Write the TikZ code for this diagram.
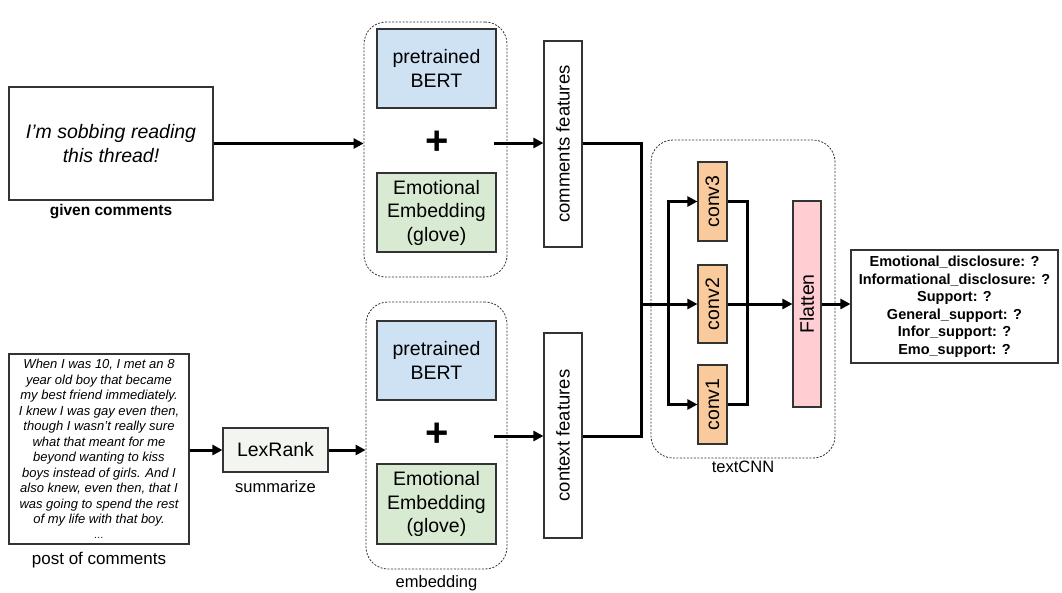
\documentclass[tikz,border=0pt]{standalone}
\usepackage{fontspec}
\setmainfont{Liberation Sans}
\usetikzlibrary{arrows.meta}

\definecolor{bertblue}{RGB}{207,226,243}
\definecolor{gloveg}{RGB}{217,234,211}
\definecolor{convor}{RGB}{249,203,156}
\definecolor{flatpink}{RGB}{255,205,210}
\definecolor{lexfill}{RGB}{243,246,240}
\definecolor{edge}{RGB}{51,51,51}

\tikzset{
  box/.style={draw=edge, line width=1.1pt, inner sep=0pt, align=center,
    font=\fontsize{19.5}{23.5}\selectfont},
  group/.style={draw=edge, line width=0.8pt, dash pattern=on 2pt off 1.5pt,
    rounded corners=22pt, inner sep=0pt},
  caption/.style={inner sep=0pt, font=\fontsize{16.5}{19}\selectfont},
  link/.style={line width=3pt, black},
  arrow/.style={link, -{Triangle[length=10pt,width=10pt]}},
  plus/.style={inner sep=0pt, font=\fontsize{40}{40}\selectfont\bfseries},
}

\begin{document}
\begin{tikzpicture}[x=1pt,y=-1pt]
\useasboundingbox (0,0) rectangle (1062,592);

% inputs
\node[box, minimum width=204, minimum height=113, font=\fontsize{19.5}{24}\selectfont\itshape]
  (cmt) at (111,143.5) {I’m sobbing reading\\this thread!};
\node[caption, font=\fontsize{15.5}{18}\selectfont\bfseries] (cmtlbl) at (111,212) {given comments};

\node[box, minimum width=180, minimum height=190, font=\fontsize{13}{15.5}\selectfont\itshape]
  (post) at (99,449) {When I was 10, I met an 8\\year old boy that became\\my best friend immediately.\\I knew I was gay even then,\\though I wasn’t really sure\\what that meant for me\\beyond wanting to kiss\\boys instead of girls. And I\\also knew, even then, that I\\was going to spend the rest\\of my life with that boy.\\[-1pt]\fontsize{10}{12}\selectfont…};
\node[caption, font=\fontsize{17}{20}\selectfont] (postlbl) at (99,560) {post of comments};

\node[box, fill=lexfill, minimum width=105, minimum height=44] (lex) at (275.5,450) {LexRank};
\node[caption] (lexlbl) at (275.5,487) {summarize};

% embedding blocks
\node[group, minimum width=143, minimum height=255] (emb1) at (435.5,149.5) {};
\node[box, fill=bertblue, minimum width=119, minimum height=79] (bert1) at (436.5,68.5) {pretrained\\BERT};
\node[plus] (plus1) at (437,143) {+};
\node[box, fill=gloveg, minimum width=119, minimum height=79] (glove1) at (436.5,212.5) {Emotional\\Embedding\\(glove)};

\node[group, minimum width=141, minimum height=267] (emb2) at (436.5,435.5) {};
\node[box, fill=bertblue, minimum width=119, minimum height=79] (bert2) at (436.5,360.5) {pretrained\\BERT};
\node[plus] (plus2) at (437,435) {+};
\node[box, fill=gloveg, minimum width=119, minimum height=80] (glove2) at (436.5,504) {Emotional\\Embedding\\(glove)};
\node[caption] (emblbl) at (436.5,583) {embedding};

% feature vectors
\node[box, minimum width=38, minimum height=206, font=\fontsize{18.5}{22}\selectfont]
  (cf) at (563,144) {\rotatebox{90}{comments features}};
\node[box, minimum width=38, minimum height=205, font=\fontsize{18.5}{22}\selectfont]
  (ctx) at (563,435.5) {\rotatebox{90}{context features}};

% textCNN
\node[group, minimum width=184, minimum height=318] (cnn) at (743,299) {};
\node[caption] (cnnlbl) at (743,467) {textCNN};
\node[box, fill=convor, minimum width=29, minimum height=79] (conv3) at (712.5,201.5) {\rotatebox{90}{conv3}};
\node[box, fill=convor, minimum width=29, minimum height=78] (conv2) at (712.5,304) {\rotatebox{90}{conv2}};
\node[box, fill=convor, minimum width=29, minimum height=79] (conv1) at (712.5,404.5) {\rotatebox{90}{conv1}};
\node[box, fill=flatpink, minimum width=28, minimum height=206] (flat) at (807,304) {\rotatebox{90}{Flatten}};

% outputs
\node[box, minimum width=207, minimum height=113, font=\fontsize{14.5}{17.5}\selectfont\bfseries]
  (out) at (954.5,306.5) {Emotional\_disclosure: ?\\Informational\_disclosure: ?\\Support: ?\\General\_support: ?\\Infor\_support: ?\\Emo\_support: ?};

% junction points
\coordinate (e1out) at (494,143);
\coordinate (e2out) at (494,436);
\coordinate (join) at (641,304);
\coordinate (split) at (668,304);
\coordinate (merge) at (747,304);

% connectors
\draw[arrow] (cmt.east) -- (cmt.east -| emb1.west);
\draw[arrow] (post.east |- lex.west) -- (lex.west);
\draw[arrow] (lex.east) -- (lex.east -| emb2.west);
\draw[arrow] (e1out) -- (e1out -| cf.west);
\draw[arrow] (e2out) -- (e2out -| ctx.west);
\draw[link] (cf.east |- e1out) -| (join);
\draw[link] (ctx.east |- e2out) -| (join);
\draw[arrow] (join) -- (conv2.west);
\draw[arrow] (split) |- (conv3.west);
\draw[arrow] (split) |- (conv1.west);
\draw[link] (conv3.east) -| (merge);
\draw[link] (conv1.east) -| (merge);
\draw[arrow] (conv2.east) -- (flat.west);
\draw[arrow] (flat.east) -- (flat.east -| out.west);
\end{tikzpicture}
\end{document}
